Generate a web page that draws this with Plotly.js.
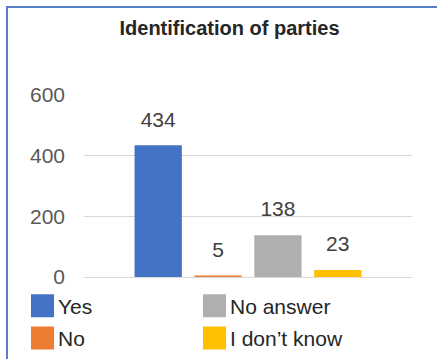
<!DOCTYPE html>
<html>
<head>
<meta charset="utf-8">
<script src="https://cdn.plot.ly/plotly-3.0.1.min.js"></script>
<style>
  html, body { margin: 0; padding: 0; background: #fff; }
  #wrap { position: relative; width: 437px; height: 359px; overflow: hidden; }
  #chart { position: absolute; left: 0; top: 0; width: 437px; height: 359px; }
  #frame { position: absolute; left: 6px; top: 6px; width: 440px; height: 360px;
           border-left: 2px solid #5580c8; border-top: 2px solid #5580c8; pointer-events: none; }
</style>
</head>
<body>
<div id="wrap">
  <div id="chart"></div>
  <div id="frame"></div>
</div>
<script>
// ---- data ----
const chartTitle = 'Identification of parties';
const groupLabel = ['Responses'];
const answers = ['Yes', 'No', 'No answer', 'I don\u2019t know'];
const counts = [434, 5, 138, 23];
const colors = ['#4472C4', '#ED7D31', '#AFAFAF', '#FFC000'];
const legendColumn = ['legend', 'legend', 'legend2', 'legend2'];
const yTicks = [0, 200, 400, 600];

const FONT = 'Liberation Sans, Arial, sans-serif';

const traces = [];
answers.forEach((name, i) => {
  traces.push({
    type: 'bar',
    name: name,
    x: groupLabel,
    y: [counts[i]],
    marker: { color: colors[i] },
    legend: legendColumn[i],
    legendgroup: 'g' + i,
    hoverinfo: 'skip'
  });
});
answers.forEach((name, i) => {
  traces.push({
    type: 'scatter',
    mode: 'markers+text',
    name: name + ' label',
    x: groupLabel,
    y: [counts[i]],
    text: [String(counts[i])],
    textposition: 'top center',
    textfont: { family: FONT, size: 21, color: '#404040' },
    marker: { size: 20, opacity: 0, color: colors[i] },
    showlegend: false,
    cliponaxis: false,
    hoverinfo: 'skip'
  });
});

const legendCommon = {
  orientation: 'v',
  xref: 'container', yref: 'container',
  xanchor: 'left',
  y: 1 - 285.5 / 359, yanchor: 'top',
  font: { family: FONT, size: 21, color: '#262626' },
  bgcolor: 'rgba(0,0,0,0)',
  borderwidth: 0,
  traceorder: 'grouped',
  tracegroupgap: 2
};

const layout = {
  width: 437,
  height: 359,
  margin: { l: 84, r: 25, t: 95, b: 82, pad: 0, autoexpand: false },
  paper_bgcolor: '#ffffff',
  plot_bgcolor: '#ffffff',
  title: {
    text: '<b>' + chartTitle + '</b>',
    font: { family: FONT, size: 20, color: '#262626' },
    x: 229.5 / 437, xanchor: 'center', xref: 'container',
    y: 1 - 28 / 359, yanchor: 'middle', yref: 'container'
  },
  barmode: 'group',
  bargap: 0.27,
  bargroupgap: 0.21,
  scattermode: 'group',
  scattergap: 0.27,
  showlegend: true,
  xaxis: {
    type: 'category',
    range: [-0.5, 0.5],
    showticklabels: false,
    showgrid: false,
    zeroline: false,
    showline: false,
    ticks: ''
  },
  yaxis: {
    range: [0, 600],
    tickvals: yTicks,
    ticktext: yTicks.map(String),
    tickfont: { family: FONT, size: 21, color: '#595959' },
    showgrid: true,
    gridcolor: '#d9d9d9',
    gridwidth: 1,
    zeroline: true,
    zerolinecolor: '#d9d9d9',
    zerolinewidth: 1,
    showline: false,
    ticks: '',
    ticklabelstandoff: 18
  },
  legend: Object.assign({}, legendCommon, { x: 18 / 437 }),
  legend2: Object.assign({}, legendCommon, { x: 190 / 437 })
};

Plotly.newPlot('chart', traces, layout, { displayModeBar: false, staticPlot: true }).then(gd => {
  gd.querySelectorAll('.legendpoints path').forEach(p => {
    const t = p.getAttribute('transform') || '';
    p.setAttribute('transform', t + ' translate(4.5,0) scale(1.92)');
  });
});
</script>
</body>
</html>
